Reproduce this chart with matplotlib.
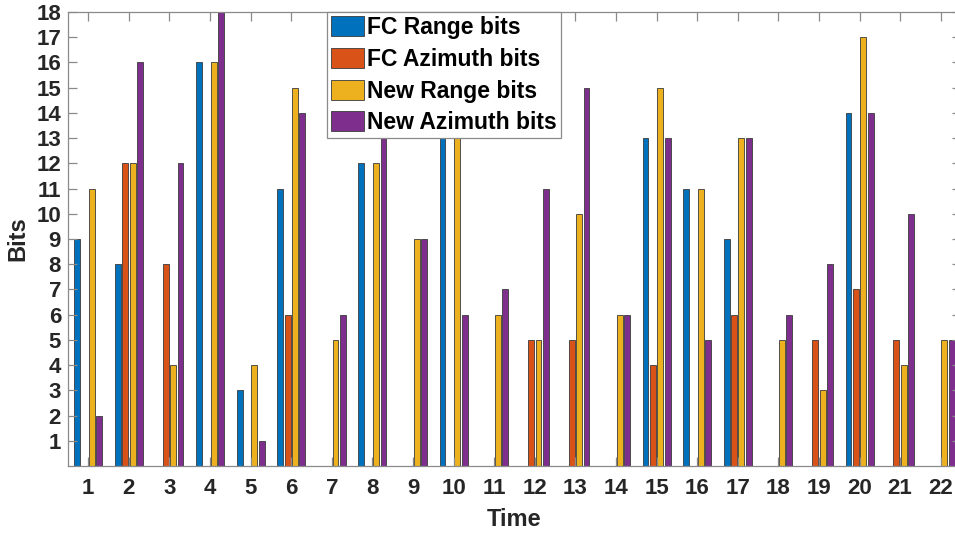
import numpy as np
import matplotlib.pyplot as plt

plt.rcParams['font.family'] = ['Liberation Sans', 'DejaVu Sans']
plt.rcParams['font.weight'] = 'bold'

times = np.arange(1, 23)
fc_range = [9, 8, 0, 16, 3, 11, 0, 12, 0, 13, 0, 0, 0, 0, 13, 11, 9, 0, 0, 14, 0, 0]
fc_azimuth = [0, 12, 8, 0, 0, 6, 0, 0, 0, 0, 0, 5, 5, 0, 4, 0, 6, 0, 5, 7, 5, 0]
new_range = [11, 12, 4, 16, 4, 15, 5, 12, 9, 13, 6, 5, 10, 6, 15, 11, 13, 5, 3, 17, 4, 5]
new_azimuth = [2, 16, 12, 18, 1, 14, 6, 13, 9, 6, 7, 11, 15, 6, 13, 5, 13, 6, 8, 14, 10, 5]

series = [fc_range, fc_azimuth, new_range, new_azimuth]
labels = ['FC Range bits', 'FC Azimuth bits', 'New Range bits', 'New Azimuth bits']
colors = ['#0072BD', '#D95319', '#EDB120', '#7E2F8E']

fig = plt.figure(figsize=(9.55, 5.33), dpi=100)
ax = fig.add_axes([68 / 955, 67 / 533, 893 / 955, 454 / 533])

# grouped bars, MATLAB-like spacing
group_w = min(0.8, 4 / (4 + 1.5))
step = group_w / 4
for i, vals in enumerate(series):
    offs = (i - 1.5) * step
    ax.bar(times + offs, vals, width=step * 0.8, color=colors[i],
           edgecolor='#3a3a3a', linewidth=0.6, label=labels[i])

ax.set_xlim(0.5, 22.5)
ax.set_ylim(0, 18)
ax.set_xticks(times)
ax.set_yticks(np.arange(1, 19))

for sp in ax.spines.values():
    sp.set_color('#8a8a8a')
    sp.set_linewidth(0.9)
ax.tick_params(direction='in', top=True, right=True, length=6.5,
               width=0.9, color='#8a8a8a', labelsize=16,
               labelcolor='#262626')
ax.tick_params(axis='x', pad=9)
ax.tick_params(axis='y', pad=5)

ax.set_xlabel('Time', fontsize=17, fontweight='bold', color='#262626', labelpad=6)
ax.set_ylabel('Bits', fontsize=17, fontweight='bold', color='#262626', labelpad=5)

leg = ax.legend(loc='upper left', bbox_to_anchor=(327 / 955, 1 - 12 / 533),
                bbox_transform=fig.transFigure, fontsize=16.5, frameon=True,
                fancybox=False, framealpha=1, edgecolor='#8a8a8a',
                borderpad=0.18, borderaxespad=0, handlelength=1.45,
                handleheight=0.95, handletextpad=0.1, labelspacing=0.38)
leg.get_frame().set_linewidth(0.9)

fig.savefig('out.png', dpi=100)
